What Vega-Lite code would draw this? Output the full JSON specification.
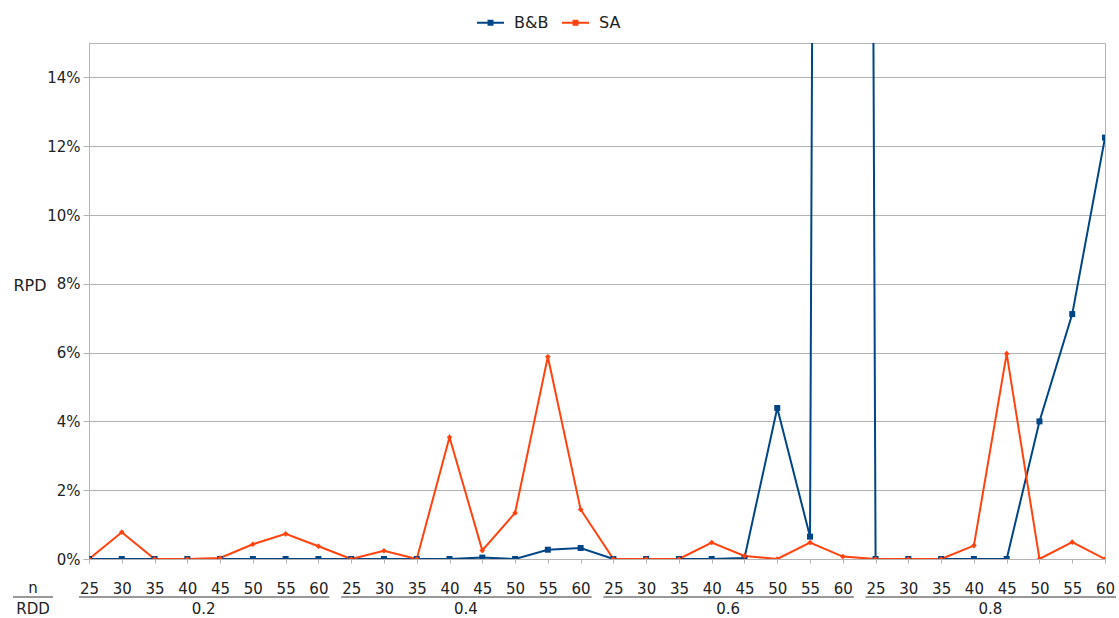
{
  "$schema": "https://vega.github.io/schema/vega-lite/v6.json",
  "width": 1016,
  "height": 516,
  "autosize": {"type": "none"},
  "padding": {"left": 89, "top": 43, "right": 14, "bottom": 59},
  "background": "white",
  "config": {
    "font": "DejaVu Sans",
    "view": {"stroke": "#b3b3b3", "strokeWidth": 1}
  },
  "datasets": {
    "series": [
      {"rdd": "0.2", "n": "25", "key": "0.2|25", "alg": "B&B", "rpd": 0},
      {"rdd": "0.2", "n": "30", "key": "0.2|30", "alg": "B&B", "rpd": 0},
      {"rdd": "0.2", "n": "35", "key": "0.2|35", "alg": "B&B", "rpd": 0},
      {"rdd": "0.2", "n": "40", "key": "0.2|40", "alg": "B&B", "rpd": 0},
      {"rdd": "0.2", "n": "45", "key": "0.2|45", "alg": "B&B", "rpd": 0},
      {"rdd": "0.2", "n": "50", "key": "0.2|50", "alg": "B&B", "rpd": 0},
      {"rdd": "0.2", "n": "55", "key": "0.2|55", "alg": "B&B", "rpd": 0},
      {"rdd": "0.2", "n": "60", "key": "0.2|60", "alg": "B&B", "rpd": 0},
      {"rdd": "0.4", "n": "25", "key": "0.4|25", "alg": "B&B", "rpd": 0},
      {"rdd": "0.4", "n": "30", "key": "0.4|30", "alg": "B&B", "rpd": 0},
      {"rdd": "0.4", "n": "35", "key": "0.4|35", "alg": "B&B", "rpd": 0},
      {"rdd": "0.4", "n": "40", "key": "0.4|40", "alg": "B&B", "rpd": 0},
      {"rdd": "0.4", "n": "45", "key": "0.4|45", "alg": "B&B", "rpd": 0.0004},
      {"rdd": "0.4", "n": "50", "key": "0.4|50", "alg": "B&B", "rpd": 0},
      {"rdd": "0.4", "n": "55", "key": "0.4|55", "alg": "B&B", "rpd": 0.0027},
      {"rdd": "0.4", "n": "60", "key": "0.4|60", "alg": "B&B", "rpd": 0.0032},
      {"rdd": "0.6", "n": "25", "key": "0.6|25", "alg": "B&B", "rpd": 0},
      {"rdd": "0.6", "n": "30", "key": "0.6|30", "alg": "B&B", "rpd": 0},
      {"rdd": "0.6", "n": "35", "key": "0.6|35", "alg": "B&B", "rpd": 0},
      {"rdd": "0.6", "n": "40", "key": "0.6|40", "alg": "B&B", "rpd": 0},
      {"rdd": "0.6", "n": "45", "key": "0.6|45", "alg": "B&B", "rpd": 0.0003},
      {"rdd": "0.6", "n": "50", "key": "0.6|50", "alg": "B&B", "rpd": 0.0439},
      {"rdd": "0.6", "n": "55", "key": "0.6|55", "alg": "B&B", "rpd": 0.0065},
      {"rdd": "0.6", "n": "60", "key": "0.6|60", "alg": "B&B", "rpd": 2.3},
      {"rdd": "0.8", "n": "25", "key": "0.8|25", "alg": "B&B", "rpd": 0},
      {"rdd": "0.8", "n": "30", "key": "0.8|30", "alg": "B&B", "rpd": 0},
      {"rdd": "0.8", "n": "35", "key": "0.8|35", "alg": "B&B", "rpd": 0},
      {"rdd": "0.8", "n": "40", "key": "0.8|40", "alg": "B&B", "rpd": 0},
      {"rdd": "0.8", "n": "45", "key": "0.8|45", "alg": "B&B", "rpd": 0},
      {"rdd": "0.8", "n": "50", "key": "0.8|50", "alg": "B&B", "rpd": 0.04},
      {"rdd": "0.8", "n": "55", "key": "0.8|55", "alg": "B&B", "rpd": 0.0712},
      {"rdd": "0.8", "n": "60", "key": "0.8|60", "alg": "B&B", "rpd": 0.1225},
      {"rdd": "0.2", "n": "25", "key": "0.2|25", "alg": "SA", "rpd": 0},
      {"rdd": "0.2", "n": "30", "key": "0.2|30", "alg": "SA", "rpd": 0.0078},
      {"rdd": "0.2", "n": "35", "key": "0.2|35", "alg": "SA", "rpd": 0},
      {"rdd": "0.2", "n": "40", "key": "0.2|40", "alg": "SA", "rpd": 0},
      {"rdd": "0.2", "n": "45", "key": "0.2|45", "alg": "SA", "rpd": 0.0003},
      {"rdd": "0.2", "n": "50", "key": "0.2|50", "alg": "SA", "rpd": 0.0043},
      {"rdd": "0.2", "n": "55", "key": "0.2|55", "alg": "SA", "rpd": 0.0073},
      {"rdd": "0.2", "n": "60", "key": "0.2|60", "alg": "SA", "rpd": 0.0037},
      {"rdd": "0.4", "n": "25", "key": "0.4|25", "alg": "SA", "rpd": 0},
      {"rdd": "0.4", "n": "30", "key": "0.4|30", "alg": "SA", "rpd": 0.0024},
      {"rdd": "0.4", "n": "35", "key": "0.4|35", "alg": "SA", "rpd": 0},
      {"rdd": "0.4", "n": "40", "key": "0.4|40", "alg": "SA", "rpd": 0.0354},
      {"rdd": "0.4", "n": "45", "key": "0.4|45", "alg": "SA", "rpd": 0.0025},
      {"rdd": "0.4", "n": "50", "key": "0.4|50", "alg": "SA", "rpd": 0.0134},
      {"rdd": "0.4", "n": "55", "key": "0.4|55", "alg": "SA", "rpd": 0.0588},
      {"rdd": "0.4", "n": "60", "key": "0.4|60", "alg": "SA", "rpd": 0.0144},
      {"rdd": "0.6", "n": "25", "key": "0.6|25", "alg": "SA", "rpd": 0},
      {"rdd": "0.6", "n": "30", "key": "0.6|30", "alg": "SA", "rpd": 0},
      {"rdd": "0.6", "n": "35", "key": "0.6|35", "alg": "SA", "rpd": 0},
      {"rdd": "0.6", "n": "40", "key": "0.6|40", "alg": "SA", "rpd": 0.0048},
      {"rdd": "0.6", "n": "45", "key": "0.6|45", "alg": "SA", "rpd": 0.0009},
      {"rdd": "0.6", "n": "50", "key": "0.6|50", "alg": "SA", "rpd": 0},
      {"rdd": "0.6", "n": "55", "key": "0.6|55", "alg": "SA", "rpd": 0.0048},
      {"rdd": "0.6", "n": "60", "key": "0.6|60", "alg": "SA", "rpd": 0.0007},
      {"rdd": "0.8", "n": "25", "key": "0.8|25", "alg": "SA", "rpd": 0},
      {"rdd": "0.8", "n": "30", "key": "0.8|30", "alg": "SA", "rpd": 0},
      {"rdd": "0.8", "n": "35", "key": "0.8|35", "alg": "SA", "rpd": 0},
      {"rdd": "0.8", "n": "40", "key": "0.8|40", "alg": "SA", "rpd": 0.0039},
      {"rdd": "0.8", "n": "45", "key": "0.8|45", "alg": "SA", "rpd": 0.0597},
      {"rdd": "0.8", "n": "50", "key": "0.8|50", "alg": "SA", "rpd": 0},
      {"rdd": "0.8", "n": "55", "key": "0.8|55", "alg": "SA", "rpd": 0.0049},
      {"rdd": "0.8", "n": "60", "key": "0.8|60", "alg": "SA", "rpd": 0}
    ],
    "groups": [
      {"rdd": "0.2", "first": "0.2|25", "last": "0.2|60", "mid": "0.2|40"},
      {"rdd": "0.4", "first": "0.4|25", "last": "0.4|60", "mid": "0.4|40"},
      {"rdd": "0.6", "first": "0.6|25", "last": "0.6|60", "mid": "0.6|40"},
      {"rdd": "0.8", "first": "0.8|25", "last": "0.8|60", "mid": "0.8|40"}
    ]
  },
  "layer": [
    {
      "data": {"name": "series"},
      "mark": {"type": "line", "strokeWidth": 2, "clip": true},
      "encoding": {
        "x": {
          "field": "key", "type": "nominal", "title": null,
          "scale": {"type": "point", "padding": 0, "domain": [
            "0.2|25","0.2|30","0.2|35","0.2|40","0.2|45","0.2|50","0.2|55","0.2|60",
            "0.4|25","0.4|30","0.4|35","0.4|40","0.4|45","0.4|50","0.4|55","0.4|60",
            "0.6|25","0.6|30","0.6|35","0.6|40","0.6|45","0.6|50","0.6|55","0.6|60",
            "0.8|25","0.8|30","0.8|35","0.8|40","0.8|45","0.8|50","0.8|55","0.8|60"]},
          "axis": {
            "title": null,
            "labelExpr": "split(datum.label, '|')[1]",
            "labelAngle": 0, "labelFontSize": 15, "labelColor": "#222",
            "labelBaseline": "alphabetic", "labelPadding": 30,
            "tickSize": 4, "tickColor": "#b3b3b3", "domainColor": "#b3b3b3",
            "grid": false
          }
        },
        "y": {
          "field": "rpd", "type": "quantitative",
          "scale": {"domain": [0, 0.15], "nice": false, "zero": true},
          "axis": {
            "title": "RPD",
            "values": [0, 0.02, 0.04, 0.06, 0.08, 0.1, 0.12, 0.14],
            "format": ".0%",
            "grid": true, "gridColor": "#b3b3b3", "gridWidth": 1,
            "domainColor": "#b3b3b3", "tickColor": "#b3b3b3", "tickSize": 6,
            "labelPadding": 3, "labelFontSize": 15, "labelColor": "#222",
            "titleAngle": 0, "titleAlign": "right", "titleBaseline": "middle",
            "titleX": -43, "titleY": 242, "titleFontSize": 16,
            "titleFontWeight": "normal", "titleColor": "#222"
          }
        },
        "color": {
          "field": "alg", "type": "nominal",
          "scale": {"domain": ["B&B", "SA"], "range": ["#004586", "#ff420e"]},
          "legend": {
            "title": null, "orient": "none", "legendX": 387, "legendY": -35,
            "direction": "horizontal",
            "symbolType": "M-1,0H1M-0.22,-0.15H0.22M-0.22,-0.05H0.22M-0.22,0.05H0.22M-0.22,0.15H0.22",
            "symbolSize": 729, "symbolStrokeWidth": 2,
            "labelFontSize": 16, "labelColor": "#222",
            "labelOffset": 9, "columnPadding": 9, "padding": 0
          }
        }
      }
    },
    {
      "data": {"name": "series"},
      "transform": [{"filter": "datum.alg === 'B&B'"}],
      "mark": {"type": "point", "shape": "square", "filled": true, "size": 36, "opacity": 1, "clip": true, "color": "#004586"},
      "encoding": {
        "x": {"field": "key", "type": "nominal", "title": null},
        "y": {"field": "rpd", "type": "quantitative"}
      }
    },
    {
      "data": {"name": "series"},
      "transform": [{"filter": "datum.alg === 'SA'"}],
      "mark": {"type": "point", "shape": "diamond", "filled": true, "size": 32, "opacity": 1, "clip": true, "color": "#ff420e"},
      "encoding": {
        "x": {"field": "key", "type": "nominal", "title": null},
        "y": {"field": "rpd", "type": "quantitative"}
      }
    },
    {
      "data": {"name": "groups"},
      "mark": {"type": "rule", "color": "#333", "strokeWidth": 1, "xOffset": -10, "x2Offset": 11},
      "encoding": {
        "x": {"field": "first", "type": "nominal", "title": null},
        "x2": {"field": "last"},
        "y": {"datum": -0.01105}
      }
    },
    {
      "data": {"name": "groups"},
      "mark": {"type": "text", "fontSize": 15, "color": "#222", "dx": 16.4, "baseline": "alphabetic", "align": "center"},
      "encoding": {
        "x": {"field": "mid", "type": "nominal", "title": null},
        "y": {"datum": -0.01599},
        "text": {"field": "rdd"}
      }
    },
    {
      "data": {"values": [{"t": "n"}]},
      "mark": {"type": "text", "fontSize": 15, "color": "#222", "dx": -56, "baseline": "alphabetic", "align": "center"},
      "encoding": {
        "x": {"datum": "0.2|25", "type": "nominal", "title": null},
        "y": {"datum": -0.00988},
        "text": {"field": "t"}
      }
    },
    {
      "data": {"values": [{"t": "RDD"}]},
      "mark": {"type": "text", "fontSize": 15, "color": "#222", "dx": -56, "baseline": "alphabetic", "align": "center"},
      "encoding": {
        "x": {"datum": "0.2|25", "type": "nominal", "title": null},
        "y": {"datum": -0.01599},
        "text": {"field": "t"}
      }
    },
    {
      "data": {"values": [{"t": "sep"}]},
      "mark": {"type": "rule", "color": "#333", "strokeWidth": 1, "xOffset": -76, "x2Offset": -36},
      "encoding": {
        "x": {"datum": "0.2|25", "type": "nominal", "title": null},
        "x2": {"datum": "0.2|25"},
        "y": {"datum": -0.01105}
      }
    }
  ]
}
